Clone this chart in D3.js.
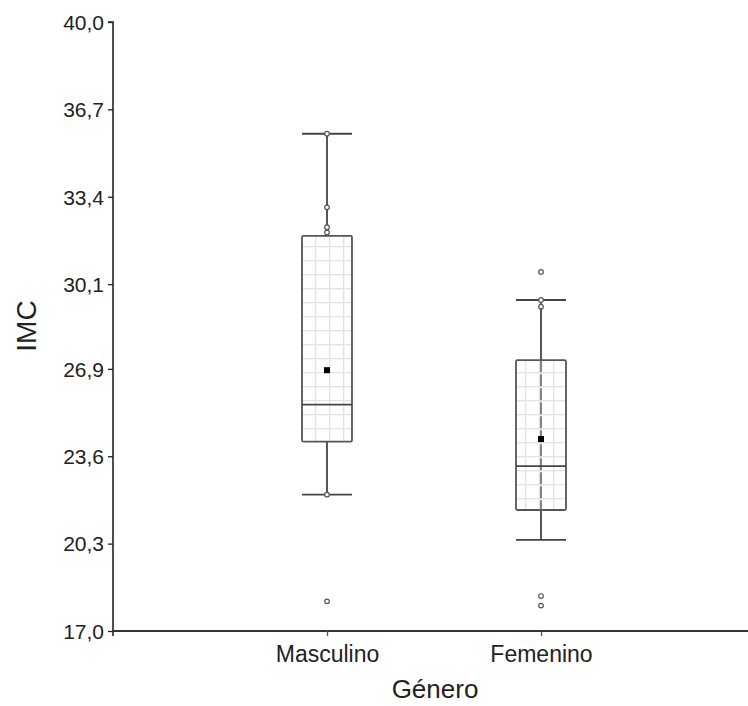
<!DOCTYPE html>
<html>
<head>
<meta charset="utf-8">
<script src="https://cdn.jsdelivr.net/npm/d3@7"></script>
<style>
body { margin: 0; background: #fff; }
text { font-family: "Liberation Sans", Arial, sans-serif; fill: #222; }
</style>
</head>
<body>
<div id="chart"></div>
<script>
// data
let groups = ["Masculino", "Femenino"];
let q1 = [24.15, 21.57];
let median = [25.55, 23.23];
let q3 = [31.92, 27.23];
let whiskLow = [22.15, 20.44];
let whiskHigh = [35.78, 29.5];
let means = [26.85, 24.25];
let points = [
    [35.78, 33.0, 32.25, 32.05, 22.15, 18.12],
    [30.56, 29.5, 29.25, 18.32, 17.96]
];
let yTicks = [17.0, 20.3, 23.6, 26.9, 30.1, 33.4, 36.7, 40.0];

let dimension = {
    width: 748,
    height: 706,
    margin: { top: 22, left: 113, right: -7, bottom: 75 }
};

let svg = d3.select("#chart")
    .append("svg")
    .attr("width", dimension.width)
    .attr("height", dimension.height);

let Y = d3.scaleLinear()
    .domain([17, 40])
    .range([dimension.height - dimension.margin.bottom, dimension.margin.top]);

let X = d3.scalePoint()
    .domain(groups)
    .range([dimension.margin.left, dimension.width - dimension.margin.right])
    .padding(1);

// grid fill of the boxes
let defs = svg.append("defs");
let pat = defs.append("pattern")
    .attr("id", "grid")
    .attr("patternUnits", "userSpaceOnUse")
    .attr("width", 14)
    .attr("height", 14)
    .attr("x", 7)
    .attr("y", 8);
pat.append("rect").attr("width", 14).attr("height", 14).attr("fill", "#fff");
pat.append("path")
    .attr("d", "M0,0.5H14M0.5,0V14")
    .attr("stroke", "#e2e2e2")
    .attr("stroke-width", 1.6);

let boxW = 50;
let data = groups.map((g, i) => ({
    g: g, q1: q1[i], med: median[i], q3: q3[i],
    lo: whiskLow[i], hi: whiskHigh[i], mean: means[i], pts: points[i]
}));

let box = svg.selectAll(".box")
    .data(data)
    .enter()
    .append("g")
    .attr("class", "box");

// whisker stems
box.append("line")
    .attr("x1", d => X(d.g)).attr("x2", d => X(d.g))
    .attr("y1", d => Y(d.hi)).attr("y2", d => Y(d.q3))
    .attr("stroke", "#444").attr("stroke-width", 1.8);
box.append("line")
    .attr("x1", d => X(d.g)).attr("x2", d => X(d.g))
    .attr("y1", d => Y(d.q1)).attr("y2", d => Y(d.lo))
    .attr("stroke", "#444").attr("stroke-width", 1.8);

// caps
["lo", "hi"].forEach(k => {
    box.append("line")
        .attr("x1", d => X(d.g) - boxW / 2).attr("x2", d => X(d.g) + boxW / 2)
        .attr("y1", d => Y(d[k])).attr("y2", d => Y(d[k]))
        .attr("stroke", "#444").attr("stroke-width", 1.8);
});

box.append("rect")
    .attr("x", d => X(d.g) - boxW / 2)
    .attr("y", d => Y(d.q3))
    .attr("width", boxW)
    .attr("height", d => Y(d.q1) - Y(d.q3))
    .attr("rx", 1.5)
    .attr("fill", "url(#grid)")
    .attr("stroke", "#555")
    .attr("stroke-width", 1.8);

// the second box shows its stem through the box
box.filter((d, i) => i == 1)
    .append("line")
    .attr("x1", d => X(d.g)).attr("x2", d => X(d.g))
    .attr("y1", d => Y(d.q3)).attr("y2", d => Y(d.q1))
    .attr("stroke", "#666").attr("stroke-width", 1.6)
    .attr("stroke-dasharray", "12,2");

box.append("line")
    .attr("x1", d => X(d.g) - boxW / 2).attr("x2", d => X(d.g) + boxW / 2)
    .attr("y1", d => Y(d.med)).attr("y2", d => Y(d.med))
    .attr("stroke", "#444").attr("stroke-width", 1.8);

box.selectAll("circle")
    .data(d => d.pts.map(v => ({ g: d.g, v: v })))
    .enter()
    .append("circle")
    .attr("cx", d => X(d.g))
    .attr("cy", d => Y(d.v))
    .attr("r", 2.3)
    .attr("fill", "#fff")
    .attr("stroke", "#555")
    .attr("stroke-width", 1.2);

box.append("rect")
    .attr("x", d => X(d.g) - 3)
    .attr("y", d => Y(d.mean) - 3)
    .attr("width", 6)
    .attr("height", 6)
    .attr("fill", "#000");

// axes
let Yaxis = d3.axisLeft(Y)
    .tickValues(yTicks)
    .tickSize(5)
    .tickPadding(4)
    .tickFormat(d => d3.format(".1f")(d).replace(".", ","));
let yg = svg.append("g")
    .attr("transform", "translate(" + dimension.margin.left + ",0)")
    .call(Yaxis);
yg.select(".domain").attr("stroke", "#222").attr("stroke-width", 1.6)
    .attr("d", "M-5," + Y(40) + "H0V" + (Y(17) + 5));
yg.selectAll(".tick line").attr("stroke", "#222").attr("stroke-width", 1.3);
yg.selectAll(".tick text").style("font-size", "21px").attr("fill", "#222")
    .attr("dy", "0.35em");

let Xaxis = d3.axisBottom(X).tickSize(5).tickPadding(10);
let xg = svg.append("g")
    .attr("transform", "translate(0," + Y(17) + ")")
    .call(Xaxis);
xg.select(".domain").attr("stroke", "#333").attr("stroke-width", 1.8)
    .attr("d", "M" + dimension.margin.left + ",0H" + dimension.width);
xg.selectAll(".tick line").attr("stroke", "#555").attr("stroke-width", 1.3);
xg.selectAll(".tick text").style("font-size", "23px").attr("fill", "#222");

svg.append("text")
    .attr("x", 435)
    .attr("y", 698)
    .attr("text-anchor", "middle")
    .style("font-size", "26px")
    .text("Género");

svg.append("text")
    .attr("transform", "translate(36,326) rotate(-90)")
    .attr("text-anchor", "middle")
    .style("font-size", "28px")
    .text("IMC");
</script>
</body>
</html>
